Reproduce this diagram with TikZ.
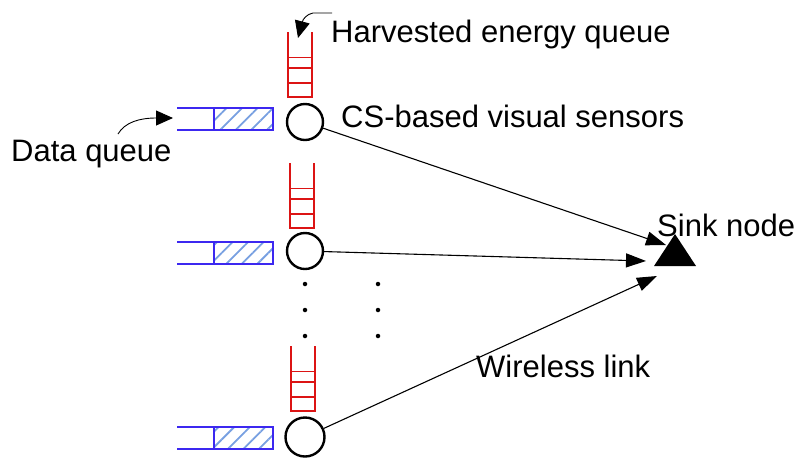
\documentclass[tikz,border=0pt]{standalone}
\usepackage{fontspec}
\setmainfont{Liberation Sans}
\usetikzlibrary{arrows.meta,patterns.meta}
\definecolor{qblue}{RGB}{60,40,240}
\definecolor{hblue}{RGB}{120,160,225}
\definecolor{qred}{RGB}{220,20,20}
\tikzset{
  sensor/.style={circle,draw=black,line width=2.4pt,minimum size=36pt,inner sep=0pt},
  lbl/.style={anchor=base west,inner sep=0pt,font=\fontsize{31}{34}\selectfont},
  link/.style={line width=1.1pt,-{Triangle[length=20pt,width=14pt]}},
  pointer/.style={line width=0.9pt,-{Triangle[length=17pt,width=15pt]}},
  dq/.style={draw=qblue,line width=1.3pt},
  eq/.style={draw=qred,line width=1.5pt},
  dot/.style={circle,fill=black,inner sep=0pt,minimum size=4.5pt}
}
\newcommand{\dataqueue}[1]{%
  \path[pattern={Lines[angle=45,distance=11pt,line width=1.8pt]},pattern color=hblue] (214,#1-11) rectangle (273,#1+11);
  \draw[dq] (177,#1-11) -- (273,#1-11) -- (273,#1+11) -- (177,#1+11);
  \draw[dq] (214,#1-11) -- (214,#1+11);
}
\newcommand{\energyqueue}[2]{%
  \draw[eq] (#1-12,#2) -- (#1-12,#2+65) -- (#1+12,#2+65) -- (#1+12,#2);
  \draw[qred,line width=1pt] (#1-12,#2+25) -- (#1+12,#2+25);
  \draw[eq] (#1-12,#2+36) -- (#1+12,#2+36);
  \draw[eq] (#1-12,#2+51) -- (#1+12,#2+51);
}
\begin{document}
\begin{tikzpicture}[x=1pt,y=-1pt]
\useasboundingbox (0,0) rectangle (797,459);
% sensors
\node[sensor] (s1) at (305,122) {};
\node[sensor] (s2) at (305,251) {};
\node[sensor,minimum size=39pt] (s3) at (305,437) {};
% data queues
\dataqueue{119}
\dataqueue{253}
\dataqueue{438}
% energy queues
\energyqueue{300}{32}
\energyqueue{302}{163}
\energyqueue{303}{346}
% dots
\foreach \yy [count=\i] in {284,310,336}{
  \node[dot] (da\i) at (305,\yy) {};
  \node[dot] (db\i) at (378,\yy) {};
}
% sink
\fill (654,266) -- (696,266) -- (675,234) -- cycle;
\coordinate (t1) at (666,245);
\coordinate (t2) at (646,261);
\coordinate (t3) at (657,276);
\draw[link] (s1) -- (t1);
\draw[link] (s2) -- (t2);
\draw[link] (s3) -- (t3);
% labels
\node[lbl] (lh) at (331,42) {Harvested energy queue};
\node[lbl] (lc) at (341,127) {CS-based visual sensors};
\node[lbl] (ld) at (11,161) {Data queue};
\node[lbl] (ls) at (657,236) {Sink node};
\node[lbl] (lw) at (476,377) {Wireless link};
% pointers
\coordinate (hs) at (332,13);
\coordinate (ph) at (298,38);
\coordinate (ds) at (118,134);
\coordinate (pd) at (173,118);
\draw[pointer] (hs) -- (313,13) .. controls (307,14) and (303,19) .. (ph);
\draw[pointer] (ds) .. controls (125,122) and (140,118) .. (pd);
\end{tikzpicture}
\end{document}
